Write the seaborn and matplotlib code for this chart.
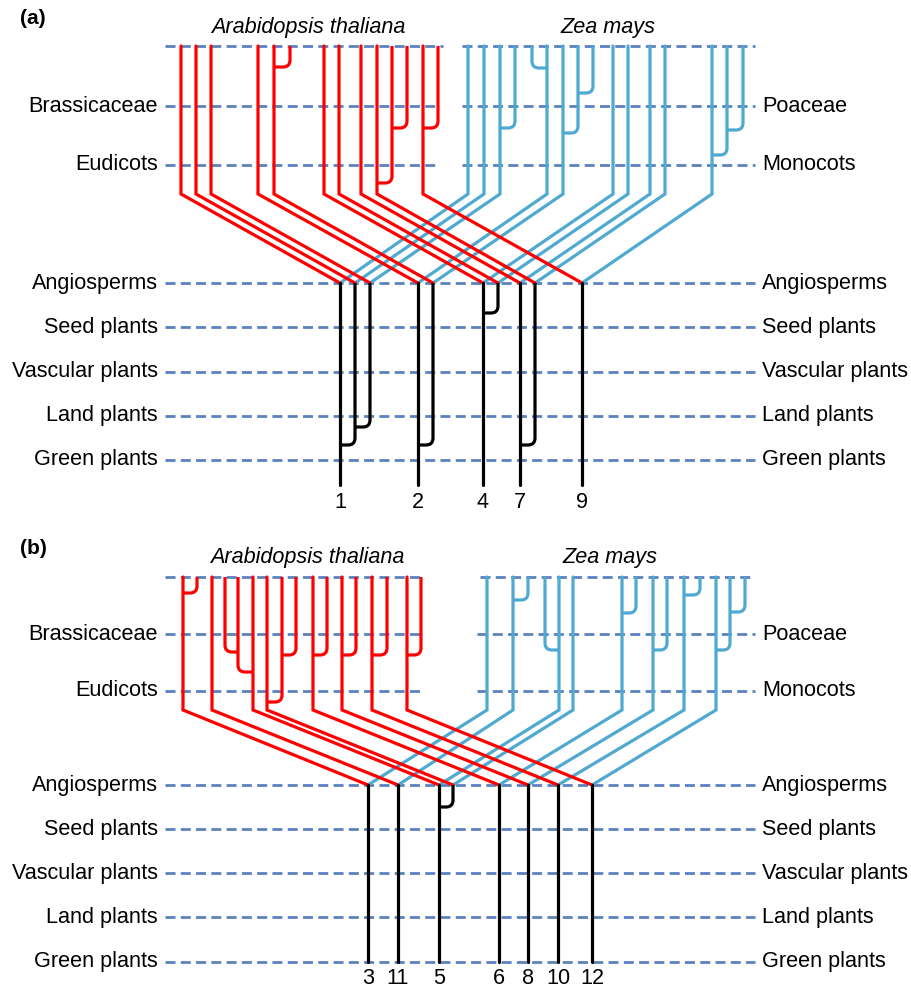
import numpy as np
import pandas as pd
import matplotlib
matplotlib.use("Agg")
import matplotlib.pyplot as plt
import seaborn as sns
from matplotlib.path import Path
from matplotlib.patches import PathPatch

sns.set_theme(style="white")
plt.rcParams['font.family'] = ['Liberation Sans', 'DejaVu Sans']
plt.rcParams['text.color'] = 'black'

# ------------------------------------------------------------------ data
left_levels = ["Brassicaceae", "Eudicots", "Angiosperms", "Seed plants",
               "Vascular plants", "Land plants", "Green plants"]
right_levels = ["Poaceae", "Monocots", "Angiosperms", "Seed plants",
                "Vascular plants", "Land plants", "Green plants"]

# panel (a)
a_levels = [46, 106, 165, 283, 327, 372, 416, 460]
a_corner = 194
a_stem_end = 485
a_red_lineages = [181, 196, 211, 258, 274, 324, 339, 361, 377, 423]
a_red_joins = [(290, 274, 67), (407, 392, 128), (392, 377, 183), (438, 423, 128)]
a_blue_lineages = [468, 484, 500, 547, 563, 613, 628, 650, 665, 712]
a_blue_joins = [(515, 500, 128), (532, 547, 68), (593, 578, 93), (578, 563, 133),
                (743, 727, 130), (727, 712, 155)]
a_nodes = [340, 355, 370, 418, 433, 483, 498, 520, 535, 582]
a_black_joins = [(370, 355, 427), (355, 340, 445), (433, 418, 445),
                 (498, 483, 313), (535, 520, 445)]
a_stems = [340, 418, 483, 520, 582]
a_stem_labels = ["1", "2", "4", "7", "9"]
a_gap = [(443, 462), (440, 462), (437, 462)]

# panel (b)
b_levels = [577, 634, 691, 785, 829, 873, 917, 962]
b_corner = 710
b_stem_end = 962
b_red_lineages = [183, 212, 253, 267, 313, 342, 372, 407]
b_red_joins = [(197, 183, 593), (225, 238, 652), (238, 253, 672), (296, 282, 655),
               (282, 267, 702), (327, 313, 655), (356, 342, 655), (387, 372, 655),
               (421, 407, 655)]
b_blue_lineages = [487, 513, 559, 573, 622, 653, 684, 716]
b_blue_joins = [(528, 513, 600), (545, 559, 650), (636, 622, 613), (667, 653, 650),
                (700, 684, 595), (745, 730, 612), (730, 716, 650)]
b_nodes = [368, 398, 439, 453, 499, 528, 558, 592]
b_black_joins = [(453, 439, 807)]
b_stems = [368, 398, 439, 499, 528, 558, 592]
b_stem_labels = ["3", "11", "5", "6", "8", "10", "12"]
b_gap = [(423, 480), (422, 477), (422, 477)]

RED = "#ff0000"
BLUE = "#4fa9d0"
DASH = "#5b82bf"
LW = 2.3
FS = 15.6
X_LEFT, X_RIGHT = 165, 755

fig = plt.figure(figsize=(9.12, 9.9), dpi=100)
ax = fig.add_axes([0, 0, 1, 1])


def elbow(cx, px, y0, yj, color, r=7):
    s = np.sign(px - cx)
    verts = [(cx, y0), (cx, yj - r), (cx, yj), (cx + s * r, yj), (px, yj)]
    codes = [Path.MOVETO, Path.LINETO, Path.CURVE3, Path.CURVE3, Path.LINETO]
    ax.add_patch(PathPatch(Path(verts, codes), fill=False, edgecolor=color,
                           lw=LW, capstyle='butt', joinstyle='round', zorder=3))


def panel(levels, corner, stem_end, reds, red_joins, blues, blue_joins,
          nodes, black_joins, stems, stem_labels, gap):
    top, angio = levels[0], levels[3]
    # dashed reference lines
    for i, y in enumerate(levels):
        if i < 3:
            segs = [(X_LEFT, gap[i][0]), (gap[i][1], X_RIGHT)]
        else:
            segs = [(X_LEFT, X_RIGHT)]
        for x0, x1 in segs:
            ax.plot([x0, x1], [y, y], color=DASH, lw=2.0, dashes=(3.6, 1.9),
                    dash_capstyle='butt', zorder=2)
    # labels
    for i, y in enumerate(levels[1:]):
        ax.text(158, y, left_levels[i], ha='right', va='center', fontsize=FS)
        ax.text(762, y, right_levels[i], ha='left', va='center', fontsize=FS)
    # lineages to angiosperm nodes
    for x, n in zip(blues, nodes):
        ax.plot([x, x, n], [top, corner, angio], color=BLUE, lw=LW,
                solid_joinstyle='miter', zorder=3)
    for x, n in zip(reds, nodes):
        ax.plot([x, x, n], [top, corner, angio], color=RED, lw=LW,
                solid_joinstyle='miter', zorder=3)
    for cx, px, yj in red_joins:
        elbow(cx, px, top, yj, RED)
    for cx, px, yj in blue_joins:
        elbow(cx, px, top, yj, BLUE)
    # black stems
    df = pd.DataFrame({"x": np.repeat(stems, 2),
                       "y": [v for _ in stems for v in (angio, stem_end)],
                       "u": np.repeat(np.arange(len(stems)), 2)})
    sns.lineplot(data=df, x="x", y="y", units="u", estimator=None, sort=False,
                 color="black", lw=LW, ax=ax, legend=False, zorder=3)
    for cx, px, yj in black_joins:
        elbow(cx, px, angio, yj, "black")
    for x, lab in zip(stems, stem_labels):
        ax.text(x, stem_end + 17, lab, ha='center', va='center', fontsize=FS)


panel(a_levels, a_corner, a_stem_end, a_red_lineages, a_red_joins,
      a_blue_lineages, a_blue_joins, a_nodes, a_black_joins, a_stems,
      a_stem_labels, a_gap)
panel(b_levels, b_corner, b_stem_end, b_red_lineages, b_red_joins,
      b_blue_lineages, b_blue_joins, b_nodes, b_black_joins, b_stems,
      b_stem_labels, b_gap)

# titles
ax.text(20, 18, "(a)", fontsize=15, fontweight='bold', ha='left', va='center')
ax.text(20, 548, "(b)", fontsize=15, fontweight='bold', ha='left', va='center')
ax.text(308, 28, "Arabidopsis thaliana", fontsize=FS, style='italic', ha='center', va='center')
ax.text(608, 28, "Zea mays", fontsize=FS, style='italic', ha='center', va='center')
ax.text(307, 557, "Arabidopsis thaliana", fontsize=FS, style='italic', ha='center', va='center')
ax.text(610, 557, "Zea mays", fontsize=FS, style='italic', ha='center', va='center')

ax.set_xlim(0, 912)
ax.set_ylim(990, 0)
ax.axis('off')
fig.savefig("out.png", dpi=100, facecolor="white")
